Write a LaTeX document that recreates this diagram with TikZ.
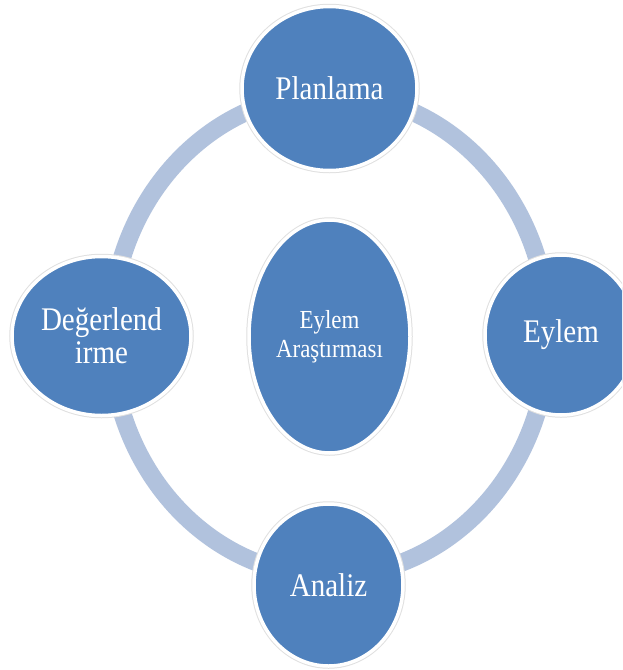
\documentclass[tikz,border=0pt]{standalone}
\usepackage{fontspec}
\setmainfont{Liberation Serif}[FakeStretch=0.88]
\usetikzlibrary{shapes.geometric}
\definecolor{stageblue}{RGB}{79,129,189}
\definecolor{ringblue}{RGB}{177,194,221}
\tikzset{
  stage/.style={ellipse, inner sep=0pt, fill=stageblue, draw=white, line width=3.5pt,
    text=white, align=center, font=\fontsize{33}{33}\selectfont,
    preaction={draw=black!12, line width=5.5pt}},
  ring/.style={draw=ringblue, line width=18pt}
}
\begin{document}
\begin{tikzpicture}[x=1pt,y=-1pt]
    \clip (0,0) rectangle (622,670);
    \fill[white] (0,0) rectangle (622,670);
    \coordinate (mid) at (329.5,335);
    \draw[ring] (mid) ellipse [x radius=219pt, y radius=241pt];
    \node [stage, minimum width=175pt, minimum height=164pt] (plan) at (329.5,88.5) {Planlama};
    \node [stage, minimum width=152pt, minimum height=160pt] (act) at (561,335) {Eylem};
    \node [stage, minimum width=149pt, minimum height=162pt] (anal) at (328.5,585) {Analiz};
    \node [stage, minimum width=179pt, minimum height=159pt] (eval) at (101.5,336) {Değerlend\\irme};
    \node [stage, minimum width=161pt, minimum height=233pt,
      font=\fontsize{26}{29}\selectfont] (core) at (329.5,336.5) {Eylem\\Araştırması};
\end{tikzpicture}
\end{document}
